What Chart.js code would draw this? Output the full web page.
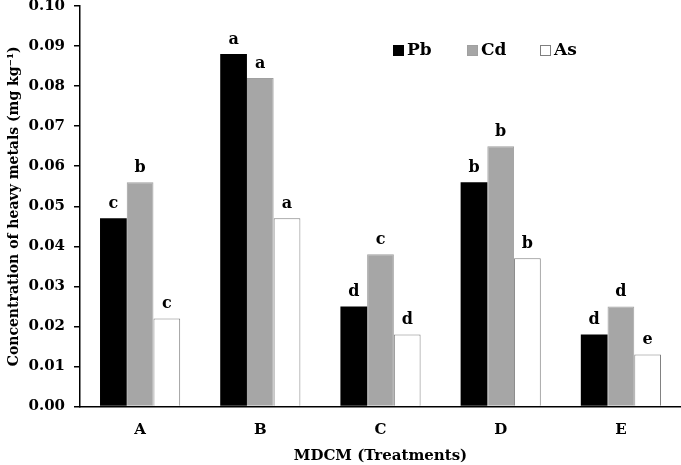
<!DOCTYPE html>
<html>
<head>
<meta charset="utf-8">
<script src="https://cdn.jsdelivr.net/npm/chart.js@4.4.1/dist/chart.umd.min.js"></script>
<style>
html,body{margin:0;padding:0;background:#fff;}
#wrap{width:681px;height:465px;position:relative;}
</style>
</head>
<body>
<div id="wrap"><canvas id="c" width="681" height="465"></canvas></div>
<script>
const categories = ['A', 'B', 'C', 'D', 'E'];
const seriesNames = ['Pb', 'Cd', 'As'];
const pbValues = [0.047, 0.088, 0.025, 0.056, 0.018];
const cdValues = [0.056, 0.082, 0.038, 0.065, 0.025];
const asValues = [0.022, 0.047, 0.018, 0.037, 0.013];
const pbLetters = ['c', 'a', 'd', 'b', 'd'];
const cdLetters = ['b', 'a', 'c', 'b', 'd'];
const asLetters = ['c', 'a', 'd', 'b', 'e'];
const yTicks = [0, 0.01, 0.02, 0.03, 0.04, 0.05, 0.06, 0.07, 0.08, 0.09, 0.10];

const SERIF = '"DejaVu Serif", "Liberation Serif", serif';

const letterPlugin = {
  id: 'letters',
  afterDatasetsDraw(chart) {
    const ctx = chart.ctx;
    ctx.save();
    ctx.font = 'bold 16px ' + SERIF;
    ctx.fillStyle = '#000';
    ctx.textAlign = 'center';
    ctx.textBaseline = 'alphabetic';
    chart.data.datasets.forEach((ds, i) => {
      const meta = chart.getDatasetMeta(i);
      meta.data.forEach((bar, j) => {
        ctx.fillText(ds.letters[j], bar.x, bar.y - 10);
      });
    });
    ctx.restore();
  }
};

const legendPlugin = {
  id: 'customLegend',
  afterDraw(chart) {
    const ctx = chart.ctx;
    const xs = [393, 467, 540];
    const y = 50;
    ctx.save();
    ctx.font = 'bold 17px ' + SERIF;
    ctx.textBaseline = 'middle';
    chart.data.datasets.forEach((ds, i) => {
      const x = xs[i];
      ctx.fillStyle = ds.backgroundColor;
      ctx.fillRect(x, y - 5, 11, 11);
      ctx.strokeStyle = ds.borderColor;
      ctx.lineWidth = 1;
      ctx.strokeRect(x + 0.5, y - 4.5, 10, 10);
      ctx.fillStyle = '#000';
      ctx.textAlign = 'left';
      ctx.fillText(ds.label, x + 14, y + 1);
    });
    ctx.restore();
  }
};

new Chart(document.getElementById('c'), {
  type: 'bar',
  data: {
    labels: categories,
    datasets: [
      { label: seriesNames[0], data: pbValues, letters: pbLetters, backgroundColor: '#000000', borderColor: '#000000', borderWidth: 0 },
      { label: seriesNames[1], data: cdValues, letters: cdLetters, backgroundColor: '#a6a6a6', borderColor: '#a0a0a0', borderWidth: 1 },
      { label: seriesNames[2], data: asValues, letters: asLetters, backgroundColor: '#ffffff', borderColor: '#7f7f7f', borderWidth: 1 }
    ]
  },
  options: {
    responsive: false,
    animation: false,
    devicePixelRatio: 1,
    categoryPercentage: 0.667,
    barPercentage: 1.0,
    layout: { padding: { top: 6, right: 0, left: 0, bottom: 0 } },
    plugins: {
      legend: { display: false },
      tooltip: { enabled: false }
    },
    scales: {
      x: {
        grid: { display: true, drawOnChartArea: false, drawTicks: false, color: 'rgba(0,0,0,0)' },
        border: { display: true, color: '#000', width: 1.5 },
        ticks: { color: '#000', font: { family: SERIF, weight: 'bold', size: 15 }, padding: 15 },
        title: { display: true, text: 'MDCM (Treatments)', color: '#000', font: { family: SERIF, weight: 'bold', size: 15 }, padding: { top: 4, bottom: 0 } },
        afterFit(scale) { scale.height = 58.5; scale.paddingLeft = 0; scale.paddingRight = 0; }
      },
      y: {
        min: 0, max: 0.1,
        afterBuildTicks(scale) { scale.ticks = yTicks.map(v => ({ value: v })); },
        grid: { display: true, drawOnChartArea: false, drawTicks: true, tickLength: 6, color: '#000', lineWidth: 1.5 },
        border: { display: true, color: '#000', width: 1.5 },
        ticks: { color: '#000', font: { family: SERIF, weight: 'bold', size: 15 }, padding: 9, callback: v => Number(v).toFixed(2) },
        title: { display: true, text: 'Concentration of heavy metals (mg kg\u207B\u00B9)', color: '#000', font: { family: SERIF, weight: 'bold', size: 14 }, padding: { top: 6, bottom: 0 } },
        afterFit(scale) { scale.width = 80; scale.paddingTop = 0; scale.paddingBottom = 0; }
      }
    }
  },
  plugins: [letterPlugin, legendPlugin]
});
</script>
</body>
</html>
